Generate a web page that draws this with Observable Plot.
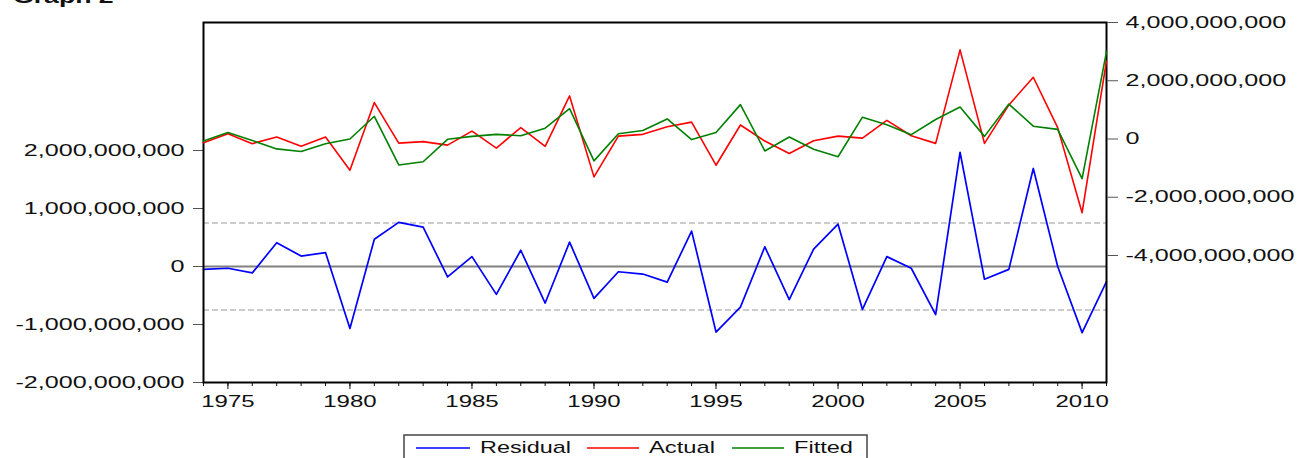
<!DOCTYPE html>
<html><head><meta charset="utf-8">
<script src="https://cdn.jsdelivr.net/npm/d3@7"></script>
<script src="https://cdn.jsdelivr.net/npm/@observablehq/plot@0.6"></script>
<style>
body{margin:0;background:#fff;width:1308px;height:458px;overflow:hidden;position:relative;font-family:"Liberation Sans",Arial,sans-serif;}
#title{position:absolute;left:13px;top:-12px;font-weight:bold;font-size:18px;line-height:18px;transform:scaleX(1.48);transform-origin:0 0;white-space:nowrap;color:#111;}
#chart{position:absolute;left:0;top:0;width:1308px;height:410px;}
#chart svg{position:absolute;left:0;top:0;}
#legend{position:absolute;left:0;top:410px;}
</style></head><body>
<div id="title">Graph 2</div>
<div id="chart"></div>
<svg id="legend" width="1308" height="48"></svg>
<script>
// ---- data ----
const years = [1974,1975,1976,1977,1978,1979,1980,1981,1982,1983,1984,1985,1986,1987,1988,1989,1990,1991,1992,1993,1994,1995,1996,1997,1998,1999,2000,2001,2002,2003,2004,2005,2006,2007,2008,2009,2010,2011];
const actual = [-0.13e9,0.18e9,-0.16e9,0.07e9,-0.25e9,0.07e9,-1.07e9,1.25e9,-0.14e9,-0.09e9,-0.21e9,0.27e9,-0.31e9,0.39e9,-0.25e9,1.48e9,-1.30e9,0.10e9,0.16e9,0.42e9,0.58e9,-0.90e9,0.48e9,-0.07e9,-0.50e9,-0.06e9,0.10e9,0.03e9,0.64e9,0.11e9,-0.15e9,3.06e9,-0.15e9,1.17e9,2.12e9,0.39e9,-2.53e9,2.68e9];
const fitted = [-0.07e9,0.22e9,-0.05e9,-0.34e9,-0.43e9,-0.16e9,0.00e9,0.78e9,-0.89e9,-0.78e9,-0.01e9,0.09e9,0.16e9,0.11e9,0.37e9,1.04e9,-0.75e9,0.18e9,0.29e9,0.69e9,-0.02e9,0.22e9,1.18e9,-0.41e9,0.07e9,-0.35e9,-0.61e9,0.75e9,0.49e9,0.15e9,0.67e9,1.10e9,0.09e9,1.20e9,0.44e9,0.33e9,-1.36e9,3.00e9];
const residual = [-0.05e9,-0.03e9,-0.11e9,0.41e9,0.18e9,0.24e9,-1.07e9,0.47e9,0.76e9,0.68e9,-0.18e9,0.17e9,-0.48e9,0.28e9,-0.63e9,0.42e9,-0.55e9,-0.09e9,-0.13e9,-0.27e9,0.61e9,-1.13e9,-0.70e9,0.34e9,-0.57e9,0.30e9,0.73e9,-0.74e9,0.17e9,-0.03e9,-0.83e9,1.97e9,-0.22e9,-0.05e9,1.69e9,0.00e9,-1.14e9,-0.26e9];
const seBand = 0.75e9;
const leftTicks = [-2e9,-1e9,0,1e9,2e9];
const rightTicks = [-4e9,-2e9,0,2e9,4e9];
const labelYears = [1975,1980,1985,1990,1995,2000,2005,2010];
const seriesNames = ["Residual","Actual","Fitted"];
const seriesColors = ["#0000ff","#ff0000","#008000"];

const rows = years.map((year,i)=>({year, residual: residual[i], actual: actual[i], fitted: fitted[i]}));
const fmt = d => (d < 0 ? "-" : "") + d3.format(",")(Math.abs(d));

const W = 1308, H = 410;
const dims = {width: W, height: H, marginLeft: 203, marginRight: 202, marginTop: 22, marginBottom: 28};
const style = {fontFamily: "'Liberation Sans', Arial, sans-serif", fontSize: "16px", color: "#111", background: "transparent", overflow: "visible"};

const plotA = Plot.plot({
  ...dims, style,
  x: {domain: [1974, 2011], label: null},
  y: {domain: [-2e9, 4.207e9], label: null},
  marks: [
    Plot.ruleY([0], {stroke: "#808080", strokeWidth: 2}),
    Plot.ruleY([-seBand, seBand], {stroke: "#999999", strokeWidth: 1, strokeDasharray: "6,3"}),
    Plot.line(rows, {x: "year", y: "residual", stroke: seriesColors[0], strokeWidth: 1.7}),
    Plot.axisY({ticks: leftTicks, anchor: "left", tickSize: 10, tickPadding: 9, tickFormat: fmt, stroke: "#555", label: null}),
    Plot.axisX({ticks: years, anchor: "bottom", tickSize: 4, tickFormat: () => "", label: null}),
    Plot.axisX({ticks: labelYears, anchor: "bottom", tickSize: 7, tickPadding: 6, tickFormat: d => String(d), label: null}),
    Plot.frame({stroke: "#000", strokeWidth: 2})
  ]
});

const plotB = Plot.plot({
  ...dims, style,
  x: {domain: [1974, 2011], axis: null, label: null},
  y: {domain: [-8.36e9, 4e9], label: null},
  marks: [
    Plot.line(rows, {x: "year", y: "actual", stroke: seriesColors[1], strokeWidth: 1.6}),
    Plot.line(rows, {x: "year", y: "fitted", stroke: seriesColors[2], strokeWidth: 1.6}),
    Plot.axisY({ticks: rightTicks, anchor: "right", tickSize: 11, tickPadding: 8, tickFormat: fmt, stroke: "#555", label: null})
  ]
});

const chart = document.getElementById("chart");
chart.appendChild(plotA);
chart.appendChild(plotB);

function stretch(svg, sel, f) {
  svg.querySelectorAll(sel).forEach(t => {
    const w = t.getComputedTextLength();
    if (w > 0) {
      t.setAttribute("textLength", (w * f).toFixed(1));
      t.setAttribute("lengthAdjust", "spacingAndGlyphs");
    }
  });
}
stretch(plotA, 'g[aria-label="y-axis tick label"] text', 1.57);
stretch(plotA, 'g[aria-label="x-axis tick label"] text', 1.5);
stretch(plotB, 'g[aria-label="y-axis tick label"] text', 1.57);

// ---- legend ----
const lg = d3.select("#legend");
lg.append("rect").attr("x", 404).attr("y", 25).attr("width", 463).attr("height", 40)
  .attr("fill", "none").attr("stroke", "#444").attr("stroke-width", 1.5);
const lineX = [[416,470],[587,639],[732,784]];
const textX = [480, 649, 794];
const textW = [91, 66, 59];
seriesNames.forEach((name, i) => {
  lg.append("line").attr("x1", lineX[i][0]).attr("x2", lineX[i][1]).attr("y1", 38).attr("y2", 38)
    .attr("stroke", seriesColors[i]).attr("stroke-width", 1.5);
  lg.append("text").attr("x", textX[i]).attr("y", 43).text(name)
    .attr("font-family", "'Liberation Sans', Arial, sans-serif").attr("font-size", 17).attr("fill", "#111")
    .attr("textLength", textW[i]).attr("lengthAdjust", "spacingAndGlyphs");
});
</script>
</body></html>
